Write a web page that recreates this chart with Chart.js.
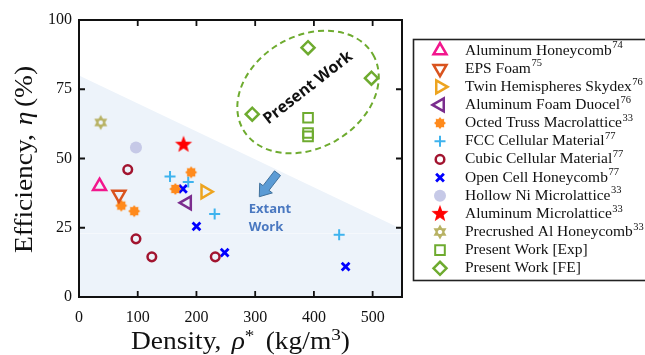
<!DOCTYPE html>
<html>
<head>
<meta charset="utf-8">
<script src="https://cdn.jsdelivr.net/npm/chart.js@4.4.1/dist/chart.umd.min.js"></script>
<style>
  html, body { margin: 0; padding: 0; background: #fff; }
  #wrap { width: 645px; height: 355px; }
</style>
</head>
<body>
<div id="wrap"><canvas id="c" width="645" height="355"></canvas></div>
<script>
// ---- data: [density kg/m^3, efficiency %] ----
const aluminumHoneycomb   = [[35, 40]];
const epsFoam             = [[68, 37]];
const twinHemispheres     = [[215, 38]];
const aluminumFoamDuocel  = [[184, 34]];
const octedTruss          = [[72, 33], [94, 31], [164, 39], [191, 45]];
const fccCellular         = [[155, 43.5], [186, 41.5], [231, 30], [443, 22.5]];
const cubicCellular       = [[83, 46], [97, 21], [124, 14.5], [232, 14.5]];
const openCellHoneycomb   = [[177, 39], [200, 25.5], [248, 16], [454, 11]];
const hollowNiLattice     = [[97, 54]];
const aluminumLattice     = [[178, 55]];
const precrushedHoneycomb = [[37, 63]];
const presentExp          = [[390, 64.7], [390, 59.2], [390, 58]];
const presentFE           = [[390, 90], [498, 79], [295, 66]];

const seriesNames = [
  'Aluminum Honeycomb', 'EPS Foam', 'Twin Hemispheres Skydex', 'Aluminum Foam Duocel',
  'Octed Truss Macrolattice', 'FCC Cellular Material', 'Cubic Cellular Material',
  'Open Cell Honeycomb', 'Hollow Ni Microlattice', 'Aluminum Microlattice',
  'Precrushed Al Honeycomb', 'Present Work [Exp]', 'Present Work [FE]'
];
const seriesRefs = ['74', '75', '76', '76', '33', '77', '77', '77', '33', '33', '33', '', ''];

const xTicks = [0, 100, 200, 300, 400, 500];
const yTicks = [0, 25, 50, 75, 100];

// boundary of the shaded "extant work" region
const extantBoundary = [[0, 80], [550, 24.5]];

// ---- custom marker glyphs ----
function makeMarker(size, draw) {
  const cv = document.createElement('canvas');
  cv.width = size; cv.height = size;
  const g = cv.getContext('2d');
  draw(g, size / 2);
  return cv;
}
const starMarker = makeMarker(20, (g, c) => {
  g.beginPath();
  for (let i = 0; i < 10; i++) {
    const r = i % 2 === 0 ? 9 : 3.8;
    const a = -Math.PI / 2 + i * Math.PI / 5;
    g.lineTo(c + r * Math.cos(a), c + r * Math.sin(a));
  }
  g.closePath();
  g.fillStyle = '#ff0000';
  g.fill();
});
const gearMarker = makeMarker(14, (g, c) => {
  g.beginPath();
  for (let i = 0; i < 16; i++) {
    const r = i % 2 === 0 ? 6 : 4.3;
    const a = -Math.PI / 2 + i * Math.PI / 8;
    g.lineTo(c + r * Math.cos(a), c + r * Math.sin(a));
  }
  g.closePath();
  g.fillStyle = '#ff8a1c';
  g.fill();
});
const hexagramMarker = makeMarker(18, (g, c) => {
  // solid six-pointed star with a small open centre
  g.fillStyle = '#b8b264';
  [-Math.PI / 2, Math.PI / 2].forEach(a0 => {
    g.beginPath();
    for (let i = 0; i < 3; i++) {
      const a = a0 + i * 2 * Math.PI / 3;
      g.lineTo(c + 7.5 * Math.cos(a), c + 7.5 * Math.sin(a));
    }
    g.closePath();
    g.fill();
  });
  g.globalCompositeOperation = 'destination-out';
  g.beginPath();
  for (let i = 0; i < 6; i++) {
    const a = i * Math.PI / 3;
    g.lineTo(c + 2.4 * Math.cos(a), c + 2.4 * Math.sin(a));
  }
  g.closePath();
  g.fill();
});

const pts = arr => arr.map(([x, y]) => ({ x, y }));

const styles = [
  { data: aluminumHoneycomb,   pointStyle: 'triangle', rotation: 0,   radius: 7.5, borderWidth: 2.5, color: '#f2168d', fill: false },
  { data: epsFoam,             pointStyle: 'triangle', rotation: 180, radius: 7.5, borderWidth: 2.5, color: '#d9531e', fill: false },
  { data: twinHemispheres,     pointStyle: 'triangle', rotation: 90,  radius: 7.5, borderWidth: 2.5, color: '#eda41f', fill: false },
  { data: aluminumFoamDuocel,  pointStyle: 'triangle', rotation: -90, radius: 7.5, borderWidth: 2.5, color: '#7b2d8e', fill: false },
  { data: octedTruss,          pointStyle: gearMarker, rotation: 0,   radius: 6,   borderWidth: 0,   color: '#ff8a1c', fill: true },
  { data: fccCellular,         pointStyle: 'cross',    rotation: 0,   radius: 5.5, borderWidth: 2,   color: '#3eb3ee', fill: false },
  { data: cubicCellular,       pointStyle: 'circle',   rotation: 0,   radius: 4.3, borderWidth: 2.5, color: '#a2142f', fill: false },
  { data: openCellHoneycomb,   pointStyle: 'crossRot', rotation: 0,   radius: 5.5, borderWidth: 2.8, color: '#0000ff', fill: false },
  { data: hollowNiLattice,     pointStyle: 'circle',   rotation: 0,   radius: 6,   borderWidth: 0,   color: '#c6c9e7', fill: true },
  { data: aluminumLattice,     pointStyle: starMarker, rotation: 0,   radius: 9,   borderWidth: 0,   color: '#ff0000', fill: true },
  { data: precrushedHoneycomb, pointStyle: hexagramMarker, rotation: 0, radius: 8, borderWidth: 0,   color: '#b8b264', fill: true },
  { data: presentExp,          pointStyle: 'rect',     rotation: 0,   radius: 6.8, borderWidth: 2,   color: '#6eab2f', fill: false },
  { data: presentFE,           pointStyle: 'rectRot',  rotation: 0,   radius: 6.5, borderWidth: 2.5, color: '#6eab2f', fill: false }
];

const datasets = styles.map((s, i) => ({
  label: seriesNames[i],
  data: pts(s.data),
  pointStyle: s.pointStyle,
  rotation: s.rotation,
  pointRadius: s.radius,
  pointHoverRadius: s.radius,
  pointBorderWidth: s.borderWidth,
  borderColor: s.color,
  backgroundColor: s.fill ? s.color : 'rgba(0,0,0,0)',
  showLine: false
}));

const SERIF = '"Liberation Serif", "Times New Roman", serif';

// draws a sequence of text runs (with optional font / vertical shift) centred at x,
// stretched horizontally by sx
function drawRuns(ctx, runs, x, y, sx) {
  let total = 0;
  runs.forEach(r => { ctx.font = r.font; r.w = ctx.measureText(r.t).width + (r.gap || 0); total += r.w; });
  ctx.save();
  ctx.translate(x, y);
  ctx.scale(sx, 1);
  let cx = -total / 2;
  ctx.textAlign = 'left';
  ctx.textBaseline = 'alphabetic';
  runs.forEach(r => { ctx.font = r.font; ctx.fillText(r.t, cx, r.dy || 0); cx += r.w; });
  ctx.restore();
}

const decorations = {
  id: 'decorations',
  beforeDatasetsDraw(chart) {
    const { ctx, scales: { x, y } } = chart;
    ctx.save();
    // shaded region of existing work
    ctx.beginPath();
    ctx.moveTo(x.getPixelForValue(extantBoundary[0][0]), y.getPixelForValue(extantBoundary[0][1]));
    ctx.lineTo(x.getPixelForValue(extantBoundary[1][0]), y.getPixelForValue(extantBoundary[1][1]));
    ctx.lineTo(x.getPixelForValue(550), y.getPixelForValue(0));
    ctx.lineTo(x.getPixelForValue(0), y.getPixelForValue(0));
    ctx.closePath();
    ctx.fillStyle = '#edf3fa';
    ctx.fill();
    ctx.strokeStyle = 'rgba(255,255,255,0.45)';
    ctx.lineWidth = 1;
    ctx.beginPath();
    const yl = Math.round(y.getPixelForValue(23)) + 0.5;
    ctx.moveTo(x.getPixelForValue(0), yl);
    ctx.lineTo(x.getPixelForValue(550), yl);
    ctx.stroke();

    // dashed ellipse around the present results
    const ex = x.getPixelForValue(390), ey = y.getPixelForValue(74);
    ctx.beginPath();
    ctx.ellipse(ex, ey, 75, 56, -Math.PI / 6, 0, Math.PI * 2);
    ctx.setLineDash([6, 4]);
    ctx.strokeStyle = '#6eab2f';
    ctx.lineWidth = 2;
    ctx.stroke();
    ctx.setLineDash([]);

    // "Present Work" label
    ctx.save();
    ctx.translate(x.getPixelForValue(390), y.getPixelForValue(75.5));
    ctx.rotate(-38 * Math.PI / 180);
    ctx.font = 'bold 16px "Open Sans", sans-serif';
    ctx.fillStyle = '#111';
    ctx.textAlign = 'center';
    ctx.textBaseline = 'middle';
    ctx.fillText('Present Work', 0, 0);
    ctx.restore();

    // arrow pointing into the extant-work region
    const sx = x.getPixelForValue(338), sy = y.getPixelForValue(44.7);
    const tx = x.getPixelForValue(307), ty = y.getPixelForValue(36.2);
    const len = Math.hypot(tx - sx, ty - sy);
    const ux = (tx - sx) / len, uy = (ty - sy) / len;
    const nx = -uy, ny = ux;
    const hl = 11, hw = 8, sw = 3.8;
    const bx = tx - ux * hl, by = ty - uy * hl;
    ctx.beginPath();
    ctx.moveTo(sx + nx * sw, sy + ny * sw);
    ctx.lineTo(bx + nx * sw, by + ny * sw);
    ctx.lineTo(bx + nx * hw, by + ny * hw);
    ctx.lineTo(tx, ty);
    ctx.lineTo(bx - nx * hw, by - ny * hw);
    ctx.lineTo(bx - nx * sw, by - ny * sw);
    ctx.lineTo(sx - nx * sw, sy - ny * sw);
    ctx.closePath();
    ctx.fillStyle = '#5b9bd5';
    ctx.fill();
    ctx.strokeStyle = '#41719c';
    ctx.lineWidth = 1;
    ctx.stroke();

    ctx.font = 'bold 13px "Open Sans", sans-serif';
    ctx.fillStyle = '#4a78c0';
    ctx.textAlign = 'left';
    ctx.textBaseline = 'middle';
    ctx.fillText('Extant', x.getPixelForValue(289), y.getPixelForValue(31.8));
    ctx.fillText('Work', x.getPixelForValue(289), y.getPixelForValue(25.3));
    ctx.restore();
  },
  afterDraw(chart) {
    const { ctx, chartArea: a, scales: { x, y } } = chart;
    ctx.save();
    // frame with inward ticks
    ctx.strokeStyle = '#111';
    ctx.lineWidth = 2;
    ctx.strokeRect(a.left, a.top, a.right - a.left, a.bottom - a.top);
    ctx.lineWidth = 1.8;
    ctx.beginPath();
    xTicks.forEach(v => {
      if (v === 0) return;
      const px = x.getPixelForValue(v);
      ctx.moveTo(px, a.bottom); ctx.lineTo(px, a.bottom - 6);
      ctx.moveTo(px, a.top); ctx.lineTo(px, a.top + 6);
    });
    yTicks.forEach(v => {
      if (v === 0 || v === 100) return;
      const py = y.getPixelForValue(v);
      ctx.moveTo(a.left, py); ctx.lineTo(a.left + 6, py);
      ctx.moveTo(a.right, py); ctx.lineTo(a.right - 6, py);
    });
    ctx.stroke();

    // axis titles
    ctx.fillStyle = '#111';
    const fs = 24.5;
    drawRuns(ctx, [
      { t: 'Density, ', font: `${fs}px ${SERIF}`, gap: 3 },
      { t: 'ρ', font: `italic ${fs}px ${SERIF}` },
      { t: '*', font: `${fs * 0.7}px ${SERIF}`, dy: -8, gap: 10 },
      { t: '(kg/m', font: `${fs}px ${SERIF}` },
      { t: '3', font: `${fs * 0.7}px ${SERIF}`, dy: -9 },
      { t: ')', font: `${fs}px ${SERIF}` }
    ], (a.left + a.right) / 2, 349, 1.12);
    ctx.save();
    ctx.translate(32, (a.top + a.bottom) / 2 + 1);
    ctx.rotate(-Math.PI / 2);
    drawRuns(ctx, [
      { t: 'Efficiency, ', font: `${fs}px ${SERIF}`, gap: 2 },
      { t: 'η', font: `italic ${fs}px ${SERIF}`, gap: 4 },
      { t: '(%)', font: `${fs}px ${SERIF}` }
    ], 0, 0, 1.12);
    ctx.restore();

    // legend
    const lx = 413.5, ly = 39.5, lb = 280.5;
    ctx.fillStyle = '#fff';
    ctx.fillRect(lx, ly, 700 - lx, lb - ly);
    ctx.strokeStyle = '#222';
    ctx.lineWidth = 1.6;
    ctx.strokeRect(lx, ly, 700 - lx, lb - ly);
    chart.data.datasets.forEach((ds, i) => {
      const cy = 50.5 + i * 18.15;
      ctx.save();
      ctx.fillStyle = ds.backgroundColor;
      ctx.strokeStyle = ds.borderColor;
      ctx.lineWidth = ds.pointBorderWidth;
      Chart.helpers.drawPoint(ctx, {
        pointStyle: ds.pointStyle, rotation: ds.rotation,
        radius: ds.pointRadius, borderWidth: ds.pointBorderWidth
      }, 440, cy);
      ctx.restore();
      ctx.fillStyle = '#111';
      ctx.textAlign = 'left';
      ctx.textBaseline = 'middle';
      ctx.font = `15.5px ${SERIF}`;
      ctx.fillText(seriesNames[i], 465, cy);
      const w = ctx.measureText(seriesNames[i]).width;
      if (seriesRefs[i]) {
        ctx.font = `10.5px ${SERIF}`;
        ctx.fillText(seriesRefs[i], 465 + w + 0.5, cy - 5);
      }
    });
    ctx.restore();
  }
};

new Chart(document.getElementById('c'), {
  type: 'scatter',
  data: { datasets },
  options: {
    responsive: false,
    animation: false,
    layout: { padding: { top: 20, right: 243, bottom: 0, left: 0 } },
    plugins: { legend: { display: false }, tooltip: { enabled: false } },
    scales: {
      x: {
        type: 'linear', min: 0, max: 550,
        afterBuildTicks: s => { s.ticks = xTicks.map(v => ({ value: v })); },
        afterFit: s => { s.height = 58; },
        grid: { display: false, drawTicks: false },
        border: { display: false },
        ticks: { padding: 11, color: '#111', font: { family: SERIF, size: 16 } }
      },
      y: {
        type: 'linear', min: 0, max: 100,
        afterBuildTicks: s => { s.ticks = yTicks.map(v => ({ value: v })); },
        afterFit: s => { s.width = 79; },
        grid: { display: false, drawTicks: false },
        border: { display: false },
        ticks: { padding: 7, color: '#111', font: { family: SERIF, size: 16 } }
      }
    }
  },
  plugins: [decorations]
});
</script>
</body>
</html>
